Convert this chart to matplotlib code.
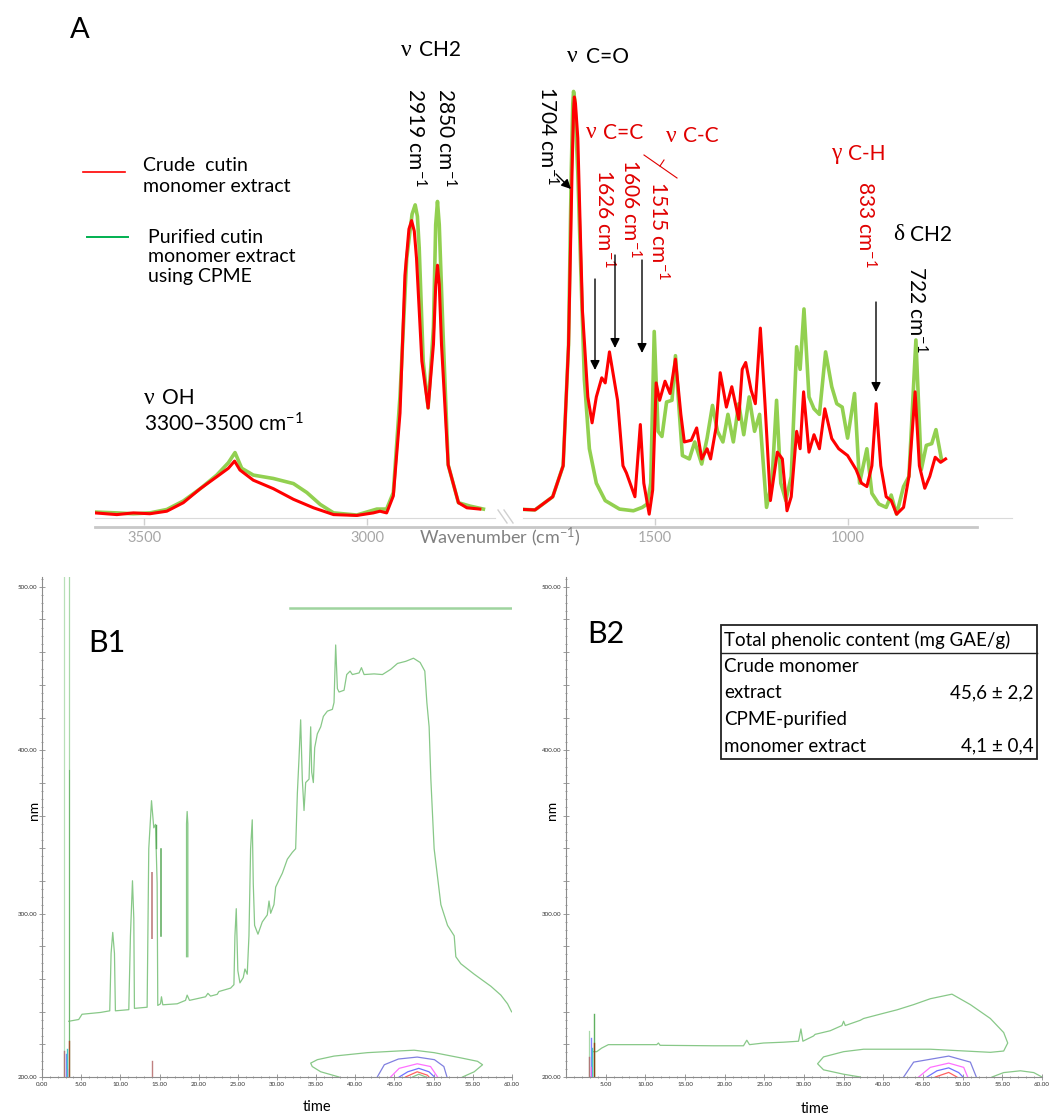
import matplotlib
matplotlib.use("Agg")
import matplotlib.pyplot as plt
from matplotlib.patches import Rectangle
from matplotlib.ticker import MultipleLocator, FuncFormatter

plt.rcParams['font.family'] = ['Lato', 'DejaVu Sans']
plt.rcParams['mathtext.fontset'] = 'custom'
plt.rcParams['mathtext.rm'] = 'Lato'
plt.rcParams['mathtext.it'] = 'Lato:italic'
plt.rcParams['mathtext.bf'] = 'Lato:bold'

# ---------------- FTIR data ----------------
crude_left_wn = [3610, 3561, 3524, 3487, 3449, 3412, 3374, 3337, 3311, 3297, 3285, 3255,
                 3210, 3165, 3120, 3075, 3023, 2986, 2971, 2956, 2941, 2926, 2915, 2906, 2900,
                 2894, 2889, 2877, 2863, 2851, 2846, 2842, 2838, 2833, 2818, 2795, 2776, 2747]
crude_left_abs = [0.012, 0.008, 0.012, 0.010, 0.016, 0.036, 0.069, 0.097, 0.117, 0.134, 0.113, 0.089,
                  0.069, 0.044, 0.024, 0.008, 0.006, 0.012, 0.016, 0.012, 0.052, 0.247, 0.571, 0.680, 0.700,
                  0.675, 0.611, 0.369, 0.259, 0.409, 0.545, 0.595, 0.550, 0.409, 0.125, 0.036, 0.024, 0.021]

pur_left_wn = [3610, 3561, 3524, 3487, 3449, 3412, 3374, 3337, 3311, 3296, 3281, 3255,
               3210, 3165, 3135, 3105, 3075, 3023, 2978, 2956, 2941, 2926, 2911, 2899, 2892,
               2887, 2883, 2874, 2863, 2851, 2846, 2842, 2838, 2830, 2818, 2795, 2769, 2739]
pur_left_abs = [0.014, 0.012, 0.010, 0.012, 0.020, 0.040, 0.069, 0.101, 0.130, 0.154, 0.117, 0.101,
                0.093, 0.081, 0.060, 0.032, 0.012, 0.007, 0.021, 0.021, 0.060, 0.287, 0.611, 0.715, 0.737,
                0.710, 0.636, 0.369, 0.259, 0.449, 0.690, 0.745, 0.690, 0.449, 0.125, 0.036, 0.028, 0.021]

crude_right_wn = [1861, 1811, 1765, 1738, 1724, 1715, 1711, 1709, 1706, 1700, 1688, 1674, 1663, 1652,
                  1638, 1629, 1618, 1606, 1597, 1583, 1574, 1552, 1538, 1529, 1515, 1506,
                  1497, 1488, 1474, 1461, 1447, 1433, 1424, 1406, 1392, 1379, 1365, 1356,
                  1342, 1331, 1315, 1301, 1283, 1274, 1265, 1251, 1240, 1227, 1215, 1201,
                  1183, 1170, 1158, 1147, 1133, 1124, 1115, 1101, 1088, 1074, 1060, 1042,
                  1024, 1001, 979, 965, 951, 938, 927, 915, 901, 888, 874, 856,
                  842, 826, 815, 801, 788, 774, 760, 747]
crude_right_abs = [0.021, 0.019, 0.050, 0.123, 0.407, 0.813, 0.960, 0.991, 0.975, 0.894, 0.488, 0.285,
                   0.224, 0.285, 0.330, 0.318, 0.391, 0.326, 0.277, 0.123, 0.106, 0.050, 0.220, 0.082,
                   0.009, 0.066, 0.318, 0.277, 0.322, 0.293, 0.374, 0.244, 0.179, 0.183, 0.212, 0.139,
                   0.163, 0.139, 0.212, 0.342, 0.261, 0.309, 0.232, 0.350, 0.366, 0.301, 0.269, 0.447,
                   0.269, 0.041, 0.155, 0.139, 0.017, 0.050, 0.204, 0.163, 0.297, 0.155, 0.196, 0.163,
                   0.257, 0.187, 0.163, 0.147, 0.114, 0.082, 0.074, 0.123, 0.269, 0.123, 0.050, 0.041,
                   0.009, 0.025, 0.098, 0.297, 0.123, 0.070, 0.098, 0.143, 0.131, 0.139]

pur_right_wn = [1861, 1811, 1765, 1738, 1724, 1717, 1713, 1711, 1708, 1700, 1690, 1683, 1670, 1652, 1629,
                1592, 1556, 1533, 1520, 1511, 1502, 1492, 1482, 1470, 1456, 1447, 1438,
                1429, 1411, 1397, 1379, 1365, 1351, 1338, 1324, 1311, 1297, 1283, 1270,
                1256, 1242, 1229, 1211, 1197, 1185, 1174, 1161, 1147, 1133, 1124, 1114,
                1101, 1088, 1074, 1058, 1042, 1029, 1015, 1001, 983, 970, 951, 938,
                920, 901, 888, 874, 856, 842, 824, 810, 797, 783, 772, 758]
pur_right_abs = [0.021, 0.019, 0.050, 0.123, 0.407, 0.813, 0.975, 1.004, 0.985, 0.813, 0.520, 0.326, 0.163,
                 0.082, 0.041, 0.021, 0.017, 0.025, 0.033, 0.082, 0.439, 0.204, 0.192, 0.273, 0.277,
                 0.382, 0.261, 0.147, 0.139, 0.179, 0.127, 0.188, 0.265, 0.204, 0.179, 0.244, 0.179,
                 0.269, 0.196, 0.285, 0.204, 0.244, 0.025, 0.086, 0.277, 0.082, 0.041, 0.098, 0.403,
                 0.350, 0.492, 0.285, 0.257, 0.244, 0.391, 0.309, 0.269, 0.261, 0.188, 0.293, 0.082,
                 0.163, 0.058, 0.033, 0.025, 0.054, 0.009, 0.074, 0.098, 0.419, 0.114, 0.171, 0.175,
                 0.208, 0.139]

# ---------------- chromatogram contour traces (time in min, wavelength in nm) ----------------
b1_t = [3.41, 4.69, 5.11, 7.46, 8.65, 8.82, 9.03, 9.25, 9.37, 11.08, 11.29, 11.55, 11.72, 11.80,
        13.42, 13.63, 13.98, 14.27, 14.49, 14.70, 14.78, 15.13, 15.25, 15.42, 17.26, 18.32, 18.53,
        18.83, 20.88, 21.18, 21.52, 22.37, 22.58, 24.08, 24.50, 24.63, 24.80, 25.00, 25.27, 25.69,
        25.91, 26.20, 26.42, 26.63, 26.84, 26.97, 27.14, 27.57, 28.12, 28.76, 28.98, 29.19, 29.61,
        29.83, 30.25, 30.68, 31.32, 31.96, 32.38, 32.60, 32.81, 33.02, 33.23, 33.45, 33.66, 34.09,
        34.30, 34.43, 34.64, 34.81, 35.15, 35.58, 35.92, 36.43, 37.07, 37.28, 37.49, 37.71, 37.92,
        38.56, 38.90, 39.33, 39.62, 40.48, 40.78, 41.12, 42.39, 43.46, 44.52, 45.38, 46.44, 47.42,
        48.27, 48.87, 49.13, 49.42, 49.64, 50.06, 50.92, 51.77, 52.62, 52.83, 53.47, 55.18, 57.31,
        58.58, 59.43, 59.95]
b1_nm = [234.1, 235.2, 238.4, 239.5, 240.5, 275.7, 288.5, 275.7, 240.5, 241.2, 286.4, 320.1, 297.0,
         242.0, 242.7, 339.7, 369.1, 352.5, 354.6, 318.4, 243.8, 244.8, 249.1, 244.2, 244.8, 246.9,
         250.1, 246.9, 249.1, 251.2, 249.5, 250.6, 252.3, 254.4, 256.5, 286.4, 303.0, 265.1, 257.6,
         260.8, 266.1, 262.9, 286.4, 339.7, 357.4, 318.4, 292.8, 287.4, 294.9, 299.2, 307.7, 300.2,
         305.5, 316.2, 320.5, 324.7, 333.3, 337.5, 339.7, 373.8, 395.1, 418.6, 382.3, 363.1, 380.2,
         382.3, 414.3, 386.6, 380.2, 401.5, 410.0, 414.3, 420.7, 423.9, 425.0, 429.2, 464.4, 437.7,
         435.6, 436.7, 446.3, 448.4, 446.3, 447.3, 450.5, 446.3, 446.7, 446.3, 449.5, 453.1, 454.4,
         456.3, 453.7, 448.4, 429.2, 414.3, 382.3, 339.7, 305.5, 292.8, 286.4, 273.6, 269.3, 262.9,
         255.5, 250.1, 244.8, 239.9]

b1_spike_t = [18.45, 18.45, 18.53, 18.62, 18.62]
b1_spike_nm = [273.6, 355.0, 362.5, 355.0, 273.6]

b1_outer_t = [37.92, 35.58, 34.50, 34.30, 35.15, 37.28, 41.54, 45.80, 47.50, 50.06, 53.47, 55.60,
              56.24, 55.18, 53.68]
b1_outer_nm = [200.0, 203.2, 206.4, 208.5, 210.6, 212.8, 214.9, 216.0, 216.4, 214.9, 211.7, 209.6,
               207.5, 203.2, 200.0]
b1_blue_t = [42.8, 43.7, 45.5, 47.9, 50.1, 51.3, 51.7]
b1_blue_nm = [200.0, 207.5, 211.0, 212.2, 210.6, 206.4, 200.0]
b1_pink_t = [44.5, 45.6, 47.9, 49.6, 50.5]
b1_pink_nm = [200.0, 205.3, 208.1, 206.4, 200.0]
b1_inner_t = [45.6, 46.7, 48.1, 49.4, 50.1]
b1_inner_nm = [200.0, 203.2, 205.3, 203.2, 200.0]
b1_red_t = [46.4, 47.9, 49.2, 49.4]
b1_red_nm = [200.0, 203.2, 201.1, 200.0]
b1_core_t = [47.3, 48.1, 49.0]
b1_core_nm = [200.0, 201.7, 200.0]

b2_t = [3.45, 3.87, 4.50, 5.34, 8.07, 11.44, 11.65, 11.86, 18.59, 22.37, 22.79, 23.13, 24.90,
        27.42, 29.31, 29.61, 29.86, 31.20, 31.40, 33.30, 34.78, 34.99, 35.20, 37.09, 37.51, 40.03,
        41.72, 43.82, 45.92, 48.65, 50.97, 53.49, 55.17, 55.68, 55.17, 53.49, 45.92, 37.51, 34.99,
        32.46, 31.71, 32.46, 34.99, 37.09]
b2_nm = [215.5, 215.5, 217.7, 219.8, 219.8, 219.8, 220.8, 219.4, 219.1, 219.1, 222.5, 219.8, 220.8,
         221.3, 221.9, 229.4, 221.9, 225.1, 226.1, 228.3, 231.5, 234.1, 231.5, 234.7, 235.8, 239.0,
         241.1, 244.3, 247.9, 250.7, 244.3, 235.8, 227.2, 220.8, 215.9, 215.1, 217.0, 217.0, 215.5,
         212.3, 208.1, 204.4, 201.7, 200.0]
b2_tail_t = [53.7, 55.17, 57.28, 58.96, 60.0]
b2_tail_nm = [200.0, 202.7, 203.8, 202.7, 200.0]
b2_blue_t = [42.56, 43.82, 48.24, 50.97, 51.72]
b2_blue_nm = [200.0, 209.1, 212.8, 209.1, 200.0]
b2_pink_t = [44.45, 45.92, 48.24, 50.13, 50.63]
b2_pink_nm = [200.0, 205.9, 208.5, 205.9, 200.0]
b2_inner_t = [45.5, 46.76, 48.24, 49.5, 50.04]
b2_inner_nm = [200.0, 203.8, 205.6, 202.7, 200.0]
b2_red_t = [46.55, 48.24, 49.28]
b2_red_nm = [200.0, 202.8, 200.0]

# short vertical traces near the injection peak: (time, top nm, colour)
b1_sticks = [(2.85, 216, '#b07878'), (3.05, 214, '#8080ff'), (3.15, 205, '#ff50ff'),
             (3.25, 217, '#40c8c8'), (3.49, 222, '#a0522d'), (13.98, 210, '#c08080')]
b2_sticks = [(2.90, 212, '#b07878'), (3.10, 224, '#8080ff'), (3.20, 206, '#ff50ff'),
             (3.32, 218, '#40c8c8'), (3.50, 221, '#8b4513')]

table_rows = [("Crude monomer", "extract", "45,6 ± 2,2"),
              ("CPME-purified", "monomer extract", "4,1 ± 0,4")]

W, H = 1051, 1115
RED = '#ff0000'
TXT_RED = '#e00000'
LGREEN = '#92d050'
TRACE = '#88c888'


def rect(x0, y0, x1, y1):
    return [x0 / W, 1 - y1 / H, (x1 - x0) / W, (y1 - y0) / H]


fig = plt.figure(figsize=(W / 100, H / 100), dpi=100)

# ---------------- panel A: broken wavenumber axis ----------------
axL = fig.add_axes(rect(95, 60, 495, 518))
axR = fig.add_axes(rect(523, 60, 1012, 518))
axL.set_xlim(3610, 2713)
axR.set_xlim(1842, 575)
axL.set_xticks([3500, 3000])
axR.set_xticks([1500, 1000])
axL.plot(pur_left_wn, pur_left_abs, color=LGREEN, lw=2.6, solid_joinstyle='round')
axL.plot(crude_left_wn, crude_left_abs, color=RED, lw=2.2, solid_joinstyle='round')
axR.plot(pur_right_wn, pur_right_abs, color=LGREEN, lw=2.6, solid_joinstyle='round')
axR.plot(crude_right_wn, crude_right_abs, color=RED, lw=2.2, solid_joinstyle='round')
for ax in (axL, axR):
    ax.set_ylim(0, 1.078)
    ax.set_yticks([])
    ax.patch.set_alpha(0)
    for s in ('top', 'left', 'right'):
        ax.spines[s].set_visible(False)
    ax.spines['bottom'].set_color('#dadada')
    ax.tick_params(axis='x', colors='#d0d0d0', labelcolor='#a6a6a6', labelsize=10.5,
                   length=5, width=1, pad=4)

# ---------------- panels B1 / B2: chromatogram contour maps ----------------
axB1 = fig.add_axes(rect(42, 577, 512, 1077))
axB2 = fig.add_axes(rect(566, 577, 1042, 1077))

axB1.plot(b1_t, b1_nm, color=TRACE, lw=0.9)
axB1.plot(b1_spike_t, b1_spike_nm, color=TRACE, lw=0.9)
axB1.plot([2.85, 2.85], [200, 506], color='#b8e0b8', lw=0.9)
axB1.plot([3.49, 3.49], [200, 506], color='#a8d8a8', lw=0.9)
axB1.plot([3.49, 3.49], [200, 388], color='#70b870', lw=0.8)
axB1.plot([31.7, 60], [486.8, 486.8], color='#9fd49f', lw=1.8)
axB1.plot([15.25, 15.25], [286.4, 339.7], color='#5aaa5a', lw=1.1)
axB1.plot([14.5, 14.5], [340.0, 354.0], color='#5aaa5a', lw=1.0)
axB1.plot([13.98, 13.98], [285.3, 325.0], color='#c89090', lw=1.4)
axB1.plot(b1_outer_t, b1_outer_nm, color=TRACE, lw=0.9)
axB1.plot(b1_blue_t, b1_blue_nm, color='#8080e0', lw=0.9)
axB1.plot(b1_pink_t, b1_pink_nm, color='#ff70ff', lw=0.9)
axB1.plot(b1_inner_t, b1_inner_nm, color='#7070ff', lw=0.9)
axB1.plot(b1_red_t, b1_red_nm, color='#ff6060', lw=0.9)
axB1.plot(b1_core_t, b1_core_nm, color=TRACE, lw=0.9)
for t, top, c in b1_sticks:
    axB1.plot([t, t], [200, top], color=c, lw=1.0)

axB2.plot(b2_t, b2_nm, color=TRACE, lw=0.9)
axB2.plot(b2_tail_t, b2_tail_nm, color=TRACE, lw=0.9)
axB2.plot([2.94, 2.94], [200, 228.3], color='#a8d8a8', lw=0.9)
axB2.plot([3.53, 3.53], [200, 238.3], color='#60b060', lw=1.0)
axB2.plot(b2_blue_t, b2_blue_nm, color='#8080e0', lw=0.9)
axB2.plot(b2_pink_t, b2_pink_nm, color='#ff70ff', lw=0.9)
axB2.plot(b2_inner_t, b2_inner_nm, color='#7070ff', lw=0.9)
axB2.plot(b2_red_t, b2_red_nm, color='#ff6060', lw=0.9)
for t, top, c in b2_sticks:
    axB2.plot([t, t], [200, top], color=c, lw=1.0)

ylab = FuncFormatter(lambda v, p: '%.2f' % v if abs(v % 100) < 1e-6 else '')
for ax in (axB1, axB2):
    ax.set_xlim(0, 60)
    ax.set_ylim(200, 506)
    ax.patch.set_alpha(0)
    ax.spines['top'].set_visible(False)
    ax.spines['right'].set_visible(False)
    for s in ('left', 'bottom'):
        ax.spines[s].set_color('#8c8c8c')
        ax.spines[s].set_linewidth(0.8)
    ax.xaxis.set_major_locator(MultipleLocator(5))
    ax.xaxis.set_minor_locator(MultipleLocator(1))
    ax.yaxis.set_major_locator(MultipleLocator(20))
    ax.yaxis.set_minor_locator(MultipleLocator(5))
    ax.yaxis.set_major_formatter(ylab)
    ax.xaxis.set_major_formatter(FuncFormatter(lambda v, p: '%.2f' % v))
    ax.tick_params(which='both', colors='#8c8c8c', labelcolor='#333333', labelsize=4.5,
                   direction='inout', width=0.6, pad=1.5)
    ax.tick_params(which='major', length=4)
    ax.tick_params(which='minor', length=2)
axB2.set_xticks(range(5, 61, 5))

# ---------------- overlay for annotations (figure pixel coordinates) ----------------
ov = fig.add_axes([0, 0, 1, 1])
ov.set_xlim(0, W)
ov.set_ylim(H, 0)
ov.axis('off')
ov.patch.set_alpha(0)

# thick grey base line and axis break marks
ov.plot([95, 977], [527, 527], color='#c8c8c8', lw=2.0)
ov.plot([498, 507], [510, 523], color='#d0d0d0', lw=1)
ov.plot([504, 513], [510, 523], color='#d0d0d0', lw=1)
ov.text(500, 537, 'Wavenumber (cm$^{-1}$)', color='#808080', fontsize=13, ha='center', va='center')

ov.text(70, 30, 'A', fontsize=21, ha='left', va='center')

# legend
ov.plot([83, 125], [172, 172], color=RED, lw=1.2)
ov.plot([87, 128], [237, 237], color='#00b050', lw=1.4)
ov.text(143, 176, 'Crude  cutin\nmonomer extract', fontsize=14, ha='left', va='center',
        linespacing=1.25)
ov.text(148, 257, 'Purified cutin\nmonomer extract\nusing CPME', fontsize=14, ha='left',
        va='center', linespacing=1.2)

# band labels: greek symbol in a serif face, rest in sans
# (x symbol, x rest, y, symbol, rest, colour)
band_labels = [(144, 162, 398, 'ν', 'OH', 'black'),
               (401, 419, 50, 'ν', 'CH2', 'black'),
               (567, 586, 57, 'ν', 'C=O', 'black'),
               (586, 603, 133, 'ν', 'C=C', TXT_RED),
               (666, 683, 136, 'ν', 'C-C', TXT_RED),
               (831, 848, 154, 'γ', 'C-H', TXT_RED),
               (893, 910, 235, 'δ', 'CH2', 'black')]
for xs, xr, y, sym, rest, c in band_labels:
    ov.text(xs, y, sym, fontsize=17, family='Liberation Serif', ha='left', va='center', color=c)
    ov.text(xr, y, rest, fontsize=15, ha='left', va='center', color=c)
ov.text(144, 424, '3300–3500 cm$^{-1}$', fontsize=15, ha='left', va='center')

# rotated peak labels: (x centre, y top, text, colour)
peak_labels = [(415, 88, '2919 cm$^{-1}$', 'black'), (445, 88, '2850 cm$^{-1}$', 'black'),
               (547, 86, '1704 cm$^{-1}$', 'black'), (604, 169, '1626 cm$^{-1}$', TXT_RED),
               (630, 159, '1606 cm$^{-1}$', TXT_RED), (658, 181, '1515 cm$^{-1}$', TXT_RED),
               (865, 181, '833 cm$^{-1}$', TXT_RED), (916, 266, '722 cm$^{-1}$', 'black')]
for x, y, s, c in peak_labels:
    ov.text(x, y, s, fontsize=15, rotation=270, ha='center', va='top', color=c)

# bracket joining the C=C and C-C labels
ov.plot([644, 677], [155, 178], color=TXT_RED, lw=0.8)
ov.plot([660, 664], [166, 160], color=TXT_RED, lw=0.8)

# arrows
arrows = [((556, 174), (571, 189)), ((595, 279), (595, 370)), ((615, 255), (615, 348)),
          ((642, 260), (642, 353)), ((876, 302), (876, 392))]
for (x0, y0), (x1, y1) in arrows:
    ov.annotate('', xy=(x1, y1), xytext=(x0, y0),
                arrowprops=dict(arrowstyle='-|>', color='black', lw=1.0, mutation_scale=14,
                                shrinkA=0, shrinkB=0))

# panel B labels
ov.text(88, 643, 'B1', fontsize=22, ha='left', va='center')
ov.text(587, 634, 'B2', fontsize=22, ha='left', va='center')
ov.text(34, 810, 'nm', fontsize=10, rotation=90, ha='center', va='center')
ov.text(552, 810, 'nm', fontsize=10, rotation=90, ha='center', va='center')
ov.text(317, 1107, 'time', fontsize=10.5, ha='center', va='center')
ov.text(815, 1109, 'time', fontsize=10.5, ha='center', va='center')

# phenolic content table
ov.add_patch(Rectangle((721, 625), 316, 134, fill=False, edgecolor='#222222', lw=1.3))
ov.plot([721, 1037], [653, 653], color='#222222', lw=1.0)
ov.text(724, 640, 'Total phenolic content (mg GAE/g)', fontsize=13.5, ha='left', va='center')
row_y = [667, 720]
for (l1, l2, val), y in zip(table_rows, row_y):
    ov.text(724, y, l1, fontsize=13.5, ha='left', va='center')
    ov.text(724, y + 26, l2, fontsize=13.5, ha='left', va='center')
    ov.text(1034, y + 26, val, fontsize=13.5, ha='right', va='center')

fig.savefig('out.png', dpi=100)
